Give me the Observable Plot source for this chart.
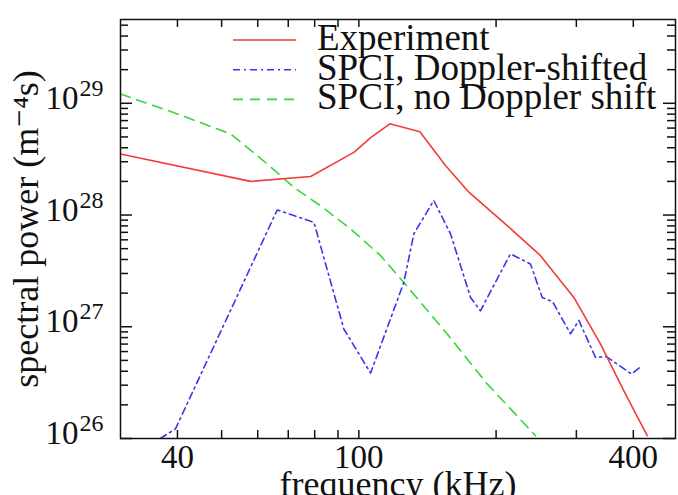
<!DOCTYPE html>
<html><head><meta charset="utf-8">
<script src="https://cdn.jsdelivr.net/npm/d3@7"></script>
<script src="https://cdn.jsdelivr.net/npm/@observablehq/plot@0.6"></script>
<style>
body{margin:0;background:#fff;}
#wrap{position:relative;width:678px;height:495px;overflow:hidden;background:#fff;}
</style></head><body><div id="wrap"></div>
<script>
// ---- data (frequency in kHz, spectral power in m^-4 s) ----
const expFreq  = [30, 57.9, 78.4, 97.5, 106, 116.9, 136.1, 154.9, 174.3, 211.5, 250.3, 296.2, 338.8, 381.1, 429.1];
const expPower = [3.52e28, 2.00e28, 2.21e28, 3.64e28, 4.90e28, 6.55e28, 5.56e28, 2.77e28, 1.60e28, 8.04e27, 4.33e27, 1.83e27, 7.02e26, 2.68e26, 1.06e26];

const dopFreq  = [36.7, 39.6, 66.2, 79.7, 92.7, 106.1, 125.5, 132.0, 146.0, 158.9, 175.8, 184.8, 215.0, 237.9, 252.5, 266, 291.3, 303.8, 330.4, 349.3, 396.3, 418.4];
const dopPower = [1.0e26, 1.22e26, 1.11e28, 8.61e27, 9.55e26, 3.85e26, 2.49e27, 6.78e27, 1.35e28, 6.78e27, 1.83e27, 1.39e27, 4.49e27, 3.65e27, 1.83e27, 1.68e27, 8.63e26, 1.14e27, 5.32e26, 5.40e26, 3.78e26, 4.49e26];

const noDopFreq  = [30, 40.0, 52.3, 56.9, 63.0, 72.0, 82.4, 95.9, 111.6, 125.5, 156.3, 191.2, 244.1];
const noDopPower = [1.21e29, 8.04e28, 5.32e28, 4.04e28, 2.86e28, 1.77e28, 1.21e28, 7.52e27, 4.33e27, 2.49e27, 8.61e26, 3.08e26, 1.06e26];

const xTickLabels = [40, 100, 400];
const xMinorTicks = [50, 60, 70, 80, 90, 200, 300];
const yTickExponents = [26, 27, 28, 29];

const seriesNames  = ["Experiment", "SPCI, Doppler-shifted", "SPCI, no Doppler shift"];
const seriesColors = ["#f23b3b", "#3838e8", "#38d638"];
const seriesDash   = [null, "7,4,2,4", "10,7"];

const xLabel = "frequency (kHz)";
const yLabel = "spectral power (m\u207B\u2074s)";

// ---- build ----
const W = 678, H = 495, mL = 120, mR = 3, mT = 19, mB = 57;
const xDom = [30, 495];
const yDom = [1e26, 10 ** 29.75];
const pw = W - mL - mR, ph = H - mT - mB;
const pxDecX = pw / Math.log10(xDom[1] / xDom[0]);
const pxDecY = ph / Math.log10(yDom[1] / yDom[0]);
const fx = px => 10 ** (px / pxDecX);   // multiplicative factor for a pixel length along x
const fy = px => 10 ** (px / pxDecY);   // multiplicative factor for a pixel length along y

const rows = (f, p) => f.map((x, i) => ({f: x, p: p[i]}));
const yMajor = yTickExponents.map(e => 10 ** e);
const yMinor = [];
for (let e = 25; e <= 29; e++) for (let k = 2; k <= 9; k++) { const v = k * 10 ** e; if (v > yDom[0] && v < yDom[1]) yMinor.push(v); }
const xTicks = [...xTickLabels, ...xMinorTicks];

const font = "'Liberation Serif', 'DejaVu Serif', serif";
const ink = "#111";
const tk = {stroke: ink, strokeWidth: 1.5};

const chart = Plot.plot({
  width: W, height: H,
  marginLeft: mL, marginRight: mR, marginTop: mT, marginBottom: mB,
  style: {fontFamily: font, background: "white", color: ink},
  x: {type: "log", domain: xDom, axis: null},
  y: {type: "log", domain: yDom, axis: null},
  marks: [
    Plot.line(rows(noDopFreq, noDopPower), {x: "f", y: "p", stroke: seriesColors[2], strokeWidth: 1.6, strokeDasharray: seriesDash[2], clip: true}),
    Plot.line(rows(dopFreq, dopPower), {x: "f", y: "p", stroke: seriesColors[1], strokeWidth: 1.6, strokeDasharray: seriesDash[1], clip: true}),
    Plot.line(rows(expFreq, expPower), {x: "f", y: "p", stroke: seriesColors[0], strokeWidth: 1.6, clip: true}),
    // inward ticks on all four sides
    Plot.ruleX(xTicks, {x: d => d, y1: yDom[0], y2: yDom[0] * fy(8), ...tk}),
    Plot.ruleX(xTicks, {x: d => d, y1: yDom[1], y2: yDom[1] / fy(8), ...tk}),
    Plot.ruleY(yMajor, {y: d => d, x1: xDom[0], x2: xDom[0] * fx(12), ...tk}),
    Plot.ruleY(yMinor, {y: d => d, x1: xDom[0], x2: xDom[0] * fx(8), ...tk}),
    Plot.ruleY(yMajor, {y: d => d, x1: xDom[1], x2: xDom[1] / fx(12), ...tk}),
    Plot.ruleY(yMinor, {y: d => d, x1: xDom[1], x2: xDom[1] / fx(8), ...tk}),
    Plot.frame({stroke: ink, strokeWidth: 1.5}),
    // tick labels
    Plot.axisX({anchor: "bottom", ticks: xTickLabels, tickSize: 0, tickPadding: 0, dy: 19, lineAnchor: "middle", tickFormat: d => String(d), label: null, fontSize: 33, fill: ink}),
    Plot.axisY({anchor: "left", ticks: yMajor, tickSize: 0, tickPadding: 42, dy: -5, tickFormat: () => "10", label: null, fontSize: 33, fill: ink}),
    Plot.axisY({anchor: "left", ticks: yMajor, tickSize: 0, tickPadding: 41, dy: -15, textAnchor: "start", tickFormat: d => String(yTickExponents[yMajor.indexOf(d)]), label: null, fontSize: 24, fill: ink}),
    // axis titles
    Plot.text([xLabel], {frameAnchor: "bottom", dy: 46, textAnchor: "middle", lineAnchor: "middle", fontSize: 36, fill: ink}),
    Plot.text([yLabel], {frameAnchor: "left", dx: -94, rotate: -90, textAnchor: "middle", lineAnchor: "middle", fontSize: 36, fill: ink})
  ]
});

const wrap = document.getElementById("wrap");
wrap.appendChild(chart);

// legend inside the plot area (top)
const legend = d3.create("svg")
  .attr("width", W).attr("height", H)
  .style("position", "absolute").style("left", "0px").style("top", "0px")
  .style("font-family", font);
seriesNames.forEach((name, i) => {
  const cy = 40 + i * 29.7;
  legend.append("line")
    .attr("x1", 233).attr("x2", 296).attr("y1", cy).attr("y2", cy)
    .attr("stroke", seriesColors[i]).attr("stroke-width", 1.6)
    .attr("stroke-dasharray", seriesDash[i]);
  legend.append("text")
    .attr("x", 317).attr("y", cy + 10)
    .attr("font-size", 37).attr("fill", ink)
    .text(name);
});
wrap.appendChild(legend.node());
</script>
</body></html>
